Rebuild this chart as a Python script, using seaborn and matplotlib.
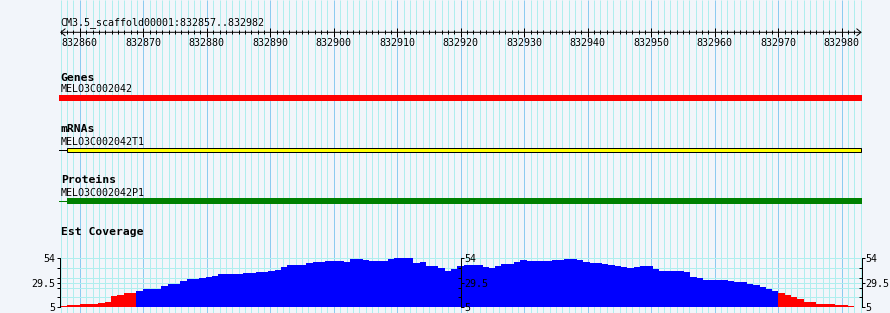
import numpy as np
import pandas as pd
import matplotlib
matplotlib.use("Agg")
import matplotlib.pyplot as plt
import seaborn as sns

# ---------------- data ----------------
scaffold = "CM3.5_scaffold00001"
window_start = 832857
window_end = 832982
ruler_ticks = list(range(832860, 832981, 10))

gene_label = "MELO3C002042"
mrna_label = "MELO3C002042T1"
protein_label = "MELO3C002042P1"
gene_span = (832850, 832990)      # gene runs past both window edges
mrna_exon = (832858, 832983)
protein_cds = (832858, 832990)

coverage = [6, 7, 7, 8, 8, 8, 9, 10, 16, 17, 19, 19, 21, 23, 23, 23, 26, 28, 28, 31,
            33, 33, 34, 35, 36, 38, 38, 38, 38, 39, 39, 40, 40, 41, 42, 45, 47, 47, 47, 49,
            50, 50, 51, 51, 51, 50, 53, 53, 52, 51, 51, 51, 53, 54, 54, 54, 49, 50, 46, 46,
            44, 41, 43, 46, 47, 47, 47, 45, 44, 46, 48, 48, 50, 52, 51, 51, 51, 51, 52, 52,
            53, 53, 52, 50, 49, 49, 48, 47, 46, 45, 44, 45, 46, 46, 43, 41, 41, 41, 41, 40,
            35, 34, 32, 32, 32, 32, 31, 30, 30, 28, 27, 25, 23, 21, 19, 17, 15, 13, 10, 10,
            8, 8, 8, 7, 7, 6]
coverage_major = [5, 29.5, 54]
coverage_minor = [14.8, 24.6, 34.4, 44.2]
coverage_threshold = 20

# ---------------- style / layout ----------------
W, H = 890, 313
BG = "#F2F5FA"
GRID_MINOR = "#AFEEEE"
GRID_MAJOR = "#8CCBF0"
MONO = "DejaVu Sans Mono"
SMALL = 7.2
BOLD = 8.2
LW = 0.72  # one pixel

px_per_bp = 6.349
x0_px = 60.8             # pixel of window_start on the ruler
panel_l, panel_r = 59, 862

fig = plt.figure(figsize=(W / 100, H / 100), dpi=100, facecolor=BG)

ax = fig.add_axes([panel_l / W, 0, (panel_r - panel_l) / W, 1])
ax.set_xlim(window_start + (panel_l - x0_px) / px_per_bp,
            window_start + (panel_r - x0_px) / px_per_bp)
ax.set_ylim(H, 0)
ax.axis("off")

# vertical grid (one line per base, darker every 10)
grid_pos = np.arange(window_start, window_end + 2)
minor_pos = [p for p in grid_pos if p % 10 != 0]
major_pos = [p for p in grid_pos if p % 10 == 0]
ax.vlines(minor_pos, 0, H, color=GRID_MINOR, lw=LW, zorder=0)
ax.vlines(major_pos, 0, H, color=GRID_MAJOR, lw=LW, zorder=0)

# ruler
ruler_y = 32.3
ax.annotate("", xy=(window_start - 0.1, ruler_y), xytext=(window_end + 1.15, ruler_y),
            arrowprops=dict(arrowstyle="<->,head_length=0.3,head_width=0.25",
                            color="black", lw=LW, shrinkA=0, shrinkB=0,
                            mutation_scale=10), zorder=3)
ax.vlines(np.arange(window_start, window_end + 1), 30.3, 34.3, color="black", lw=LW, zorder=3)
ax.vlines(ruler_ticks, 28.3, 36.7, color="black", lw=LW, zorder=3)
for t in ruler_ticks:
    ax.text(t, 46.3, str(t), ha="center", va="baseline", fontsize=SMALL, family=MONO)
ax.text(window_start, 25, f"{scaffold}:{window_start}..{window_end}",
        ha="left", va="baseline", fontsize=SMALL, family=MONO)

# tracks
def label(y_title, title, y_name=None, name=None):
    ax.text(window_start, y_title, title, ha="left", va="baseline",
            fontsize=BOLD, family=MONO, fontweight="bold")
    if name:
        ax.text(window_start, y_name, name, ha="left", va="baseline",
                fontsize=SMALL, family=MONO)

label(80.7, "Genes", 92, gene_label)
ax.barh(98, gene_span[1] - gene_span[0], left=gene_span[0], height=6,
        color="#FF0000", linewidth=0, zorder=2)

label(131.7, "mRNAs", 145, mrna_label)
ax.hlines(149.5, gene_span[0], mrna_exon[0], color="black", lw=LW, zorder=2)
ax.barh(149.5, mrna_exon[1] - mrna_exon[0], left=mrna_exon[0], height=4,
        color="#FFFF00", edgecolor="black", linewidth=LW, zorder=2)

label(183, "Proteins", 195.7, protein_label)
ax.hlines(200.7, gene_span[0], protein_cds[0], color="#008000", lw=LW, zorder=2)
ax.barh(200.7, protein_cds[1] - protein_cds[0], left=protein_cds[0], height=6,
        color="#008000", linewidth=0, zorder=2)

label(235, "Est Coverage")

# ---------------- coverage (seaborn) ----------------
cov_l, cov_r = 60, 861.7
cov_top, cov_bot = 258.3, 307
cov_mid = (cov_l + cov_r) / 2
bar_x0 = 60.7
bar_px = (854.0 - bar_x0) / len(coverage)
bottom = 1 - cov_bot / H
height = (cov_bot - cov_top) / H

ax_cov = fig.add_axes([cov_l / W, bottom, (cov_r - cov_l) / W, height])
df = pd.DataFrame({"pos": np.arange(window_start, window_start + len(coverage)),
                   "cov": coverage})
df["level"] = np.where(df["cov"] < coverage_threshold, "low", "high")
sns.barplot(data=df, x="pos", y="cov", hue="level",
            palette={"low": "#FF0000", "high": "#0000FF"},
            native_scale=True, width=1, dodge=False, errorbar=None,
            saturation=1, linewidth=0, legend=False, ax=ax_cov,
            antialiased=False, zorder=2)
ax_cov.set_xlim(window_start - 0.5 + (cov_l - bar_x0) / bar_px,
                window_start - 0.5 + (cov_r - bar_x0) / bar_px)
ax_cov.set_ylim(5, 54)
ax_cov.set_facecolor("none")
ax_cov.set_xlabel("")
ax_cov.set_ylabel("")
ax_cov.set_xticks([])
for s in ["top", "right", "bottom"]:
    ax_cov.spines[s].set_visible(False)
ax_cov.spines["left"].set_linewidth(LW)
ax_cov.set_yticks(coverage_major)
ax_cov.set_yticklabels(["5", "29.5", "54"])
ax_cov.set_yticks(coverage_minor, minor=True)
ax_cov.tick_params(axis="y", which="both", direction="out", length=2.2, width=LW,
                   pad=1, labelsize=SMALL, labelfontfamily=MONO)
ax_cov.grid(axis="y", which="both", color=GRID_MINOR, linewidth=LW)
ax_cov.set_axisbelow(True)

def side_axis(left_px, right_px):
    a = fig.add_axes([left_px / W, bottom, (right_px - left_px) / W, height])
    a.set_ylim(5, 54)
    a.patch.set_visible(False)
    for s in ["top", "left", "bottom"]:
        a.spines[s].set_visible(False)
    a.spines["right"].set_linewidth(LW)
    a.set_xticks([])
    a.yaxis.tick_right()
    a.set_yticks(coverage_major)
    a.set_yticklabels(["5", "29.5", "54"])
    a.set_yticks(coverage_minor, minor=True)
    a.tick_params(axis="y", which="major", direction="out", length=2.2, width=LW,
                  pad=0.5, labelsize=SMALL, labelfontfamily=MONO)
    a.tick_params(axis="y", which="minor", direction="in", length=2.2, width=LW)
    return a

side_axis(cov_l, cov_mid)
side_axis(cov_mid, cov_r)

fig.savefig("out.png", dpi=100, facecolor=BG)
